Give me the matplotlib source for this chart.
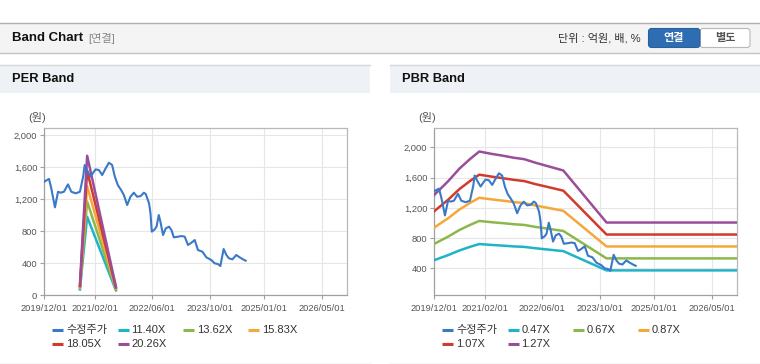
import matplotlib
matplotlib.use("Agg")
import matplotlib.pyplot as plt
import pandas as pd
from matplotlib.lines import Line2D
from matplotlib.patches import Rectangle, FancyBboxPatch
from matplotlib.ticker import FuncFormatter

plt.rcParams["font.family"] = ["Liberation Sans", "Noto Sans CJK KR"]

# adjusted close price (수정주가), shared by both panels
price_dates = [
    "2019-12-01", "2019-12-13", "2020-01-10", "2020-01-29", "2020-02-29", "2020-03-26",
    "2020-04-17", "2020-05-15", "2020-06-18", "2020-07-16", "2020-08-22", "2020-09-27",
    "2020-10-25", "2020-11-06", "2020-11-28", "2020-12-26", "2021-01-17", "2021-02-06",
    "2021-03-06", "2021-04-03", "2021-05-02", "2021-05-30", "2021-06-26", "2021-07-19",
    "2021-08-13", "2021-09-10", "2021-10-03", "2021-10-31", "2021-11-28", "2021-12-26",
    "2022-01-23", "2022-02-21", "2022-03-21", "2022-04-06", "2022-05-04", "2022-05-16",
    "2022-05-27", "2022-06-21", "2022-07-06", "2022-07-25", "2022-08-08", "2022-08-30",
    "2022-09-22", "2022-10-20", "2022-11-09", "2022-11-29", "2023-01-04", "2023-02-02",
    "2023-03-01", "2023-03-29", "2023-04-27", "2023-05-25", "2023-06-21", "2023-07-29",
    "2023-08-31", "2023-10-12", "2023-11-09", "2023-12-07", "2023-12-27", "2024-01-24",
    "2024-02-16", "2024-03-09", "2024-04-07", "2024-05-10", "2024-06-07", "2024-07-05",
    "2024-07-28",
]
price_values = [
    1420, 1433, 1455, 1337, 1100, 1295,
    1283, 1295, 1387, 1295, 1275, 1295,
    1491, 1629, 1558, 1483, 1533, 1575,
    1566, 1504, 1587, 1658, 1629, 1483,
    1379, 1316, 1254, 1129, 1233, 1283,
    1233, 1240, 1283, 1266, 1150, 1025,
    796, 825, 858, 1004, 920, 754,
    837, 858, 816, 725, 733, 741,
    733, 629, 658, 691, 566, 545,
    475, 441, 400, 391, 366, 579,
    504, 462, 450, 504, 475, 450,
    433,
]

# PER band
per_dates = ["2020-09-27", "2020-10-18", "2020-11-27", "2021-07-28"]
per_1140 = [73, 394, 982, 61]
per_1362 = [87, 470, 1173, 73]
per_1583 = [101, 547, 1364, 84]
per_1805 = [115, 624, 1555, 96]
per_2026 = [129, 700, 1745, 108]
per_labels = ["11.40X", "13.62X", "15.83X", "18.05X", "20.26X"]

# PBR band
pbr_dates = [
    "2019-12-01", "2020-03-31", "2020-06-30", "2020-09-30", "2020-12-15", "2021-03-31",
    "2021-06-30", "2021-09-30", "2021-12-31", "2022-03-31", "2022-06-30", "2022-09-30",
    "2022-11-25", "2023-11-25", "2026-12-01",
]
pbr_047 = [508, 577, 636, 685, 721, 709, 700, 690, 683, 666, 651, 636, 627, 372, 372]
pbr_067 = [724, 823, 907, 976, 1027, 1010, 998, 984, 974, 949, 929, 907, 894, 531, 531]
pbr_087 = [940, 1068, 1178, 1268, 1334, 1312, 1296, 1278, 1264, 1233, 1206, 1178, 1161, 689, 689]
pbr_107 = [1156, 1314, 1449, 1559, 1640, 1614, 1594, 1572, 1555, 1516, 1483, 1449, 1428, 847, 847]
pbr_127 = [1372, 1560, 1720, 1850, 1947, 1915, 1892, 1865, 1845, 1800, 1760, 1720, 1695, 1006, 1006]
pbr_labels = ["0.47X", "0.67X", "0.87X", "1.07X", "1.27X"]

x_ticks = ["2019-12-01", "2021-02-01", "2022-06-01", "2023-10-01", "2025-01-01", "2026-05-01"]
x_range = ["2019-12-01", "2026-12-01"]

price_color = "#3a78c8"
band_colors = ["#1fb3c6", "#8bb84c", "#f4a839", "#d23a2b", "#9a4e9a"]

W, H = 760, 364


def fx(px):
    return px / W


def fy(py):
    return 1 - py / H


def add_rect(fig, x0, y0, x1, y1, color):
    fig.add_artist(Rectangle((fx(x0), fy(y1)), fx(x1) - fx(x0), fy(y0) - fy(y1),
                             transform=fig.transFigure, facecolor=color, edgecolor="none", zorder=0))


def add_hline(fig, x0, x1, y, color, lw=1.0):
    fig.add_artist(Line2D([fx(x0), fx(x1)], [fy(y), fy(y)], transform=fig.transFigure,
                          color=color, lw=lw, zorder=1))


def draw_panel(fig, px0, px1, ax_left, title, band_dates, bands, labels, ylim, yticks):
    add_hline(fig, px0, px1, 64.5, "#d6d6d6")
    add_rect(fig, px0, 65, px1, 93, "#eef2f7")
    add_hline(fig, px0, px1, 363.5, "#d0d0d0")
    fig.text(fx(px0 + 12), fy(79.5), title, fontsize=9.3, fontweight="bold", color="#111111",
             va="center", ha="left")

    ax = fig.add_axes([fx(ax_left), fy(295.3), 302.7 / W, 167.2 / H])
    handles = []
    (h,) = ax.plot(pd.to_datetime(price_dates), price_values, color=price_color, lw=1.5,
                   zorder=4, label="수정주가")
    handles.append(h)
    bd = pd.to_datetime(band_dates)
    for vals, col, lab in zip(bands, band_colors, labels):
        (h,) = ax.plot(bd, vals, color=col, lw=1.8, zorder=3, label=lab)
        handles.append(h)

    ax.set_xlim(pd.to_datetime(x_range[0]), pd.to_datetime(x_range[1]))
    ax.set_ylim(*ylim)
    xt = pd.to_datetime(x_ticks)
    ax.set_xticks(xt)
    ax.set_xticklabels([d.strftime("%Y/%m/%d") for d in xt])
    ax.set_yticks(yticks)
    ax.yaxis.set_major_formatter(FuncFormatter(lambda v, p: f"{v:,.0f}"))
    ax.grid(True, color="#e6e6e6", lw=0.8)
    ax.set_axisbelow(True)
    for side, sp in ax.spines.items():
        sp.set_color("#b8b8b8")
        sp.set_linewidth(0.9)
    ax.spines["left"].set_color("#a0a0a0")
    ax.spines["bottom"].set_color("#a0a0a0")
    ax.tick_params(axis="both", labelsize=6.7, labelcolor="#555555", color="#a0a0a0",
                   length=3, width=0.8)
    ax.tick_params(axis="y", pad=2)
    ax.tick_params(axis="x", pad=3)

    fig.text(fx(ax_left - 16), fy(118), "(원)", fontsize=8, color="#555555",
             va="center", ha="left")

    # legend, 4 per row
    for i, h in enumerate(handles):
        col, row = i % 4, i // 4
        lx = ax_left + 8 + col * 65.2
        ly = 330 + row * 14.3
        fig.add_artist(Line2D([fx(lx), fx(lx + 11)], [fy(ly), fy(ly)], transform=fig.transFigure,
                              color=h.get_color(), lw=2.2, solid_capstyle="butt"))
        fig.text(fx(lx + 14), fy(ly), h.get_label(), fontsize=8, color="#333333",
                 va="center", ha="left")
    return ax


fig = plt.figure(figsize=(W / 100, H / 100), dpi=100)
fig.patch.set_facecolor("white")

# top header bar
add_rect(fig, 0, 23, W, 53, "#f4f4f4")
add_hline(fig, 0, W, 22.5, "#b0b0b0")
add_hline(fig, 0, W, 53, "#c4c4c4")
fig.text(fx(12), fy(38), "Band Chart", fontsize=9.5, fontweight="bold", color="#111111",
         va="center", ha="left")
fig.text(fx(88), fy(38), "[연결]", fontsize=8, color="#888888", va="center", ha="left")
fig.text(fx(641), fy(38), "단위 : 억원, 배, %", fontsize=8, color="#333333",
         va="center", ha="right")

tr = fig.dpi_scale_trans
fig.add_artist(FancyBboxPatch((700 / 100, (H - 47.5) / 100), 50 / 100, 19 / 100,
                              boxstyle="round,pad=0,rounding_size=0.03", transform=tr,
                              facecolor="white", edgecolor="#b8b8b8", lw=0.8))
fig.add_artist(FancyBboxPatch((648.5 / 100, (H - 47.5) / 100), 51.5 / 100, 19 / 100,
                              boxstyle="round,pad=0,rounding_size=0.03", transform=tr,
                              facecolor="#2f6db3", edgecolor="#2a5f9e", lw=0.8))
fig.text(fx(674), fy(38), "연결", fontsize=8, fontweight="bold", color="white",
         va="center", ha="center")
fig.text(fx(725), fy(38), "별도", fontsize=8, fontweight="bold", color="#555555",
         va="center", ha="center")

draw_panel(fig, 0, 370, 44.3, "PER Band", per_dates,
           [per_1140, per_1362, per_1583, per_1805, per_2026], per_labels,
           (0, 2091), [0, 400, 800, 1200, 1600, 2000])
draw_panel(fig, 390, 760, 434.3, "PBR Band", pbr_dates,
           [pbr_047, pbr_067, pbr_087, pbr_107, pbr_127], pbr_labels,
           (42, 2257), [400, 800, 1200, 1600, 2000])

fig.savefig("out.png", dpi=100, facecolor="white")
